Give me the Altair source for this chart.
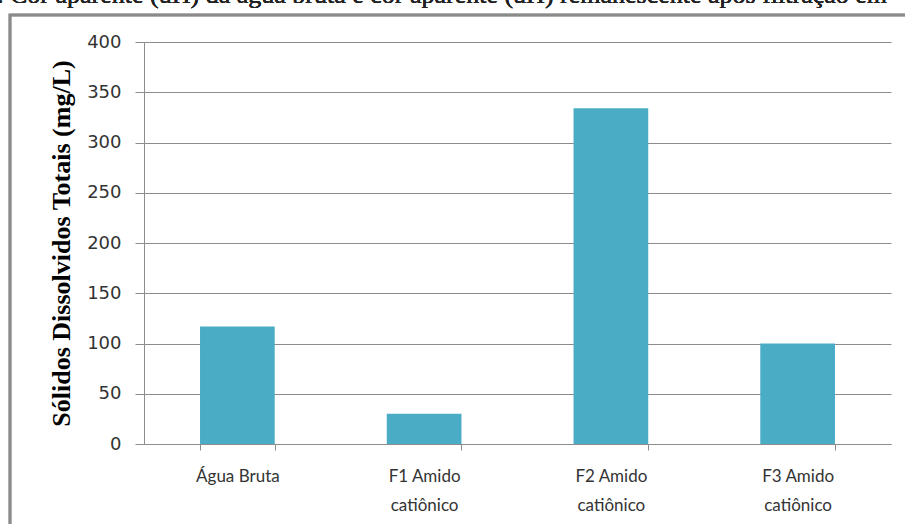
import altair as alt
import pandas as pd

# Total dissolved solids per sample
categorias = ["Água Bruta", "F1 Amido catiônico", "F2 Amido catiônico", "F3 Amido catiônico"]
solidos = [117, 30, 334, 100]
legenda_topo = "7. Cor aparente (uH) da água bruta e cor aparente (uH) remanescente após filtração em"

df = pd.DataFrame({"categoria": categorias, "valor": solidos})

W, H = 747, 402
bar_color = "#4BACC6"
grid_color = "#8C8C8C"

x_enc = alt.X(
    "categoria:N",
    sort=categorias,
    title=None,
    scale=alt.Scale(paddingInner=0.6, paddingOuter=0.3),
    axis=alt.Axis(
        labelAngle=0,
        labelFont="Lato",
        labelFontSize=17,
        labelColor="#333333",
        labelLineHeight=29,
        labelPadding=18,
        labelExpr="split(replace(datum.label, ' catiônico', '|catiônico'), '|')",
        tickBand="extent",
        tickSize=6,
        tickColor=grid_color,
        domainColor=grid_color,
        grid=False,
    ),
)

y_enc = alt.Y(
    "valor:Q",
    scale=alt.Scale(domain=[0, 400], nice=False),
    axis=alt.Axis(
        values=[0, 50, 100, 150, 200, 250, 300, 350, 400],
        title="Sólidos Dissolvidos Totais (mg/L)",
        titleFont="Liberation Serif",
        titleFontSize=26,
        titleFontWeight="bold",
        titleColor="#000000",
        titlePadding=12,
        labelFont="DejaVu Sans",
        labelFontSize=18,
        labelColor="#333333",
        labelPadding=14,
        tickSize=9,
        tickColor=grid_color,
        domainColor=grid_color,
        gridColor=grid_color,
        gridWidth=1,
    ),
)

bars = alt.Chart(df).mark_bar(color=bar_color).encode(x=x_enc, y=y_enc)

# outer frame of the figure
frame = alt.Chart(df).mark_rect(
    fill=None, stroke="#8A8A8A", strokeWidth=2.5
).encode(
    x=alt.value(-134), x2=alt.value(W + 60), y=alt.value(-27), y2=alt.value(H + 200)
)

# caption line of the page, mostly above the figure
caption = alt.Chart(df).mark_text(
    text=legenda_topo,
    font="Times New Roman, Liberation Serif, serif",
    fontSize=26,
    fontWeight="normal",
    align="left",
    baseline="alphabetic",
    color="#222222",
).encode(x=alt.value(-160), y=alt.value(-39))

chart = alt.layer(frame, bars, caption).properties(
    width=W,
    height=H,
    autosize=alt.AutoSizeParams(type="none"),
    padding={"left": 144, "top": 42, "right": 14, "bottom": 80},
    background="white",
).configure_view(stroke=None)

chart.save("out.html", embed_options={"renderer": "svg", "actions": False})
